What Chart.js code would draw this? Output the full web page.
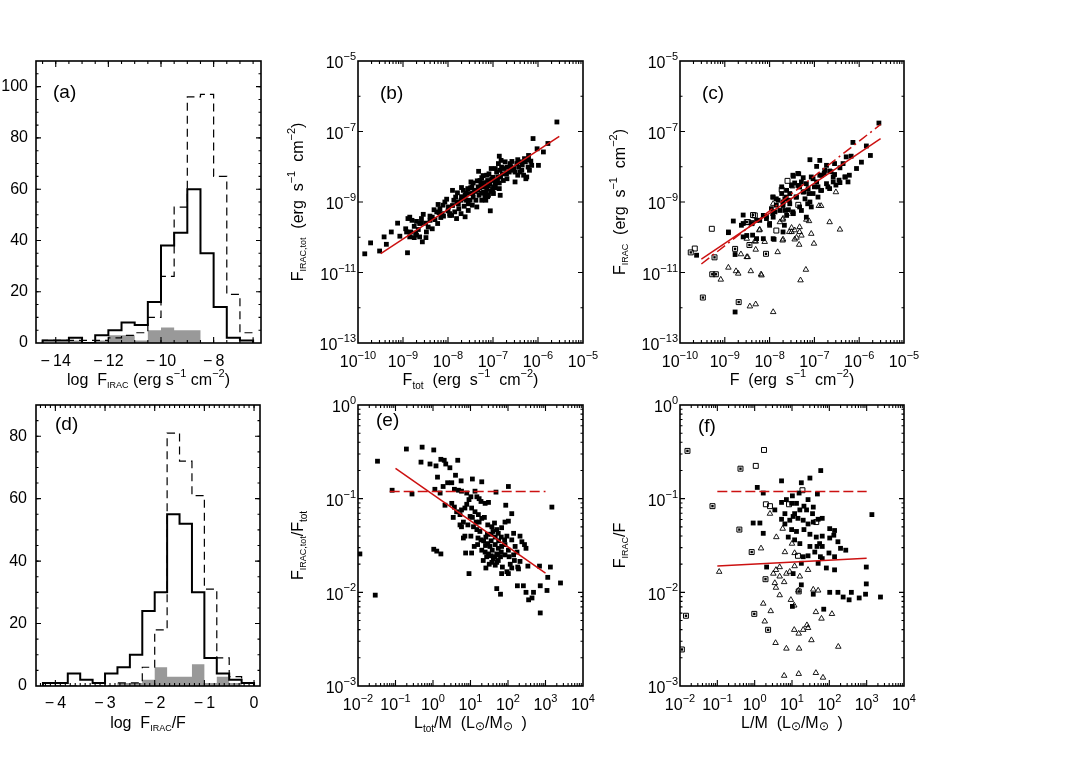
<!DOCTYPE html>
<html><head><meta charset="utf-8">
<script src="https://cdn.jsdelivr.net/npm/chart.js@4"></script>
<style>
html,body{margin:0;padding:0;background:#fff;}
#wrap{position:relative;width:1090px;height:778px;overflow:hidden;background:#fff;}
canvas{position:absolute;}
</style></head><body><div id="wrap"></div>
<script>
// ---------------- DATA ----------------
// Panel (a): histogram of log F_IRAC, bin edges and counts
const aBinEdges = [-14.5,-14,-13.5,-13,-12.5,-12,-11.5,-11,-10.5,-10,-9.5,-9,-8.5,-8,-7.5,-7,-6.5];
const aSolid  = [1,1,2,0,3,5,8,7,16,38,43,60,35,14,2,1];
const aDashed = [1,1,1,1,1,2,3,4,10,26,53,96,97,65,19,4];
const aGray   = [0,0,1,0,1,3,3,1,5,6,5,5,0,0,0,0];
// Panel (d): histogram of log F_IRAC/F
const dBinEdges = [-4.25,-4,-3.75,-3.5,-3.25,-3,-2.75,-2.5,-2.25,-2,-1.75,-1.5,-1.25,-1,-0.75,-0.5,-0.25,0];
const dSolid  = [1,1,4,2,1,4,6,10,24,30,55,52,30,9,4,2,1];
const dDashed = [0,0,0,0,0,0,1,1,6,18,81,72,61,31,9,3,1];
const dGray   = [0,0,0,0,0,0,1,1,2,6,3,3,7,1,3,1,0];

// Tick labels
const aXTicks = [-14,-12,-10,-8];
const aYTicks = [0,20,40,60,80,100];
const dXTicks = [-4,-3,-2,-1,0];
const dYTicks = [0,20,40,60,80];
const bcXTickExp = [-10,-9,-8,-7,-6,-5];
const bcYTickExp = [-5,-7,-9,-11,-13];
const efXTickExp = [-2,-1,0,1,2,3,4];
const efYTickExp = [0,-1,-2,-3];

// Panel (b): [log10 F_tot, log10 F_IRAC,tot]
const bLog = [
[-5.58,-6.73],[-6.11,-7.20],[-5.78,-7.34],[-6.02,-7.49],[-5.88,-7.58],[-5.99,-7.96],[-6.16,-7.84],[-6.21,-7.68],[-6.86,-7.70],[-6.58,-7.85],
[-6.51,-8.43],[-6.27,-8.34],[-7.32,-8.13],[-6.84,-8.81],[-7.06,-9.25],[-7.90,-8.67],[-8.03,-8.92],[-7.81,-9.47],[-7.62,-9.42],[-7.96,-9.38],
[-9.12,-9.60],[-9.26,-9.85],[-9.42,-9.99],[-9.72,-10.16],[-9.85,-10.47],[-9.37,-10.20],[-9.52,-10.39],[-8.90,-10.44],[-9.07,-9.97],[-8.57,-10.13],
[-8.49,-10.01],[-8.85,-9.99],[-8.70,-9.94],
[-8.94,-9.76],[-8.89,-9.47],[-8.85,-9.43],[-8.80,-9.52],[-8.75,-9.69],[-8.83,-9.85],[-8.92,-9.85],[-8.72,-9.88],[-8.66,-9.78],[-8.63,-9.61],
[-8.55,-9.35],[-8.59,-9.47],[-8.50,-9.60],[-8.44,-9.71],[-8.40,-9.52],[-8.35,-9.43],[-8.31,-9.22],[-8.25,-9.28],[-8.29,-9.50],[-8.22,-9.07],
[-8.18,-9.19],[-8.13,-9.33],[-8.16,-9.44],[-8.11,-9.09],[-8.07,-9.00],[-8.23,-9.61],[-8.35,-9.76],[-8.48,-9.85],[-8.63,-9.99],[-8.75,-10.01],
[-7.99,-9.14],[-7.96,-9.33],[-7.92,-9.38],[-7.85,-9.28],[-7.77,-9.05],[-7.71,-8.95],[-7.70,-8.59],[-7.66,-8.67],[-7.62,-8.81],[-7.59,-8.95],
[-7.55,-9.05],[-7.51,-8.76],[-7.47,-8.57],[-7.49,-8.43],[-7.44,-8.86],[-7.41,-8.67],[-7.38,-8.95],[-7.36,-9.14],[-7.55,-9.24],[-7.46,-9.09],
[-7.64,-9.12],[-7.71,-9.33],[-7.76,-9.19],[-7.87,-8.95],[-7.83,-8.86],[-7.79,-8.74],[-7.66,-8.90],[-7.56,-8.62],[-7.51,-8.95],[-7.44,-8.46],
[-7.33,-8.57],[-7.29,-8.39],[-7.25,-8.31],[-7.21,-8.72],[-7.19,-8.53],[-7.16,-8.95],[-7.14,-8.62],[-7.12,-8.39],[-7.09,-8.20],[-7.07,-8.48],
[-7.03,-8.34],[-7.01,-8.65],[-6.99,-8.57],[-6.97,-8.39],[-6.95,-8.05],[-6.92,-8.15],[-6.89,-8.29],[-6.86,-8.46],[-6.83,-8.29],[-6.81,-8.01],
[-6.79,-8.20],[-6.77,-8.39],[-6.73,-7.86],[-6.69,-8.34],[-6.75,-8.05],[-6.82,-7.82],[-6.88,-7.91],[-6.92,-8.39],[-6.99,-8.76],[-7.10,-8.81],
[-7.18,-8.86],[-7.25,-8.95],[-7.31,-8.81],[-7.34,-8.67],[-7.27,-8.48],[-7.14,-8.24],[-7.04,-8.05],[-6.95,-8.48],[-6.86,-8.62],[-7.21,-8.57],
[-6.62,-7.91],[-6.58,-8.10],[-6.54,-8.05],[-6.51,-8.15],[-6.47,-7.91],[-6.43,-8.01],[-6.40,-8.15],[-6.36,-8.10],[-6.32,-8.24],[-6.28,-7.86],
[-6.25,-8.29],[-6.22,-8.01],[-6.19,-8.10],[-6.14,-7.96],[-6.45,-8.24],[-6.37,-7.86],[-6.30,-7.77],[-6.21,-7.80],[-6.64,-8.15],[-6.69,-8.01],
[-7.40,-8.70],[-7.30,-8.60],[-7.20,-8.45],[-7.10,-8.55],[-7.00,-8.30],[-6.90,-8.40],[-7.35,-8.40],[-7.25,-8.75],[-7.15,-8.75],[-7.05,-8.70],
[-6.95,-8.60],[-7.45,-8.75],[-7.50,-8.60],[-7.60,-8.75],[-7.70,-8.85],[-7.80,-9.00],[-7.90,-9.10],[-8.00,-9.25],[-8.10,-9.40],[-8.20,-9.30],
[-8.40,-9.40],[-8.60,-9.60],[-8.70,-9.55],[-6.85,-8.10],[-6.70,-8.20],[-6.60,-8.00],[-6.45,-7.80],[-6.35,-7.95],[-7.22,-8.25],[-7.12,-8.85]
];
const bFitX = [3.2e-10, 2.97e-6];
const bFitY = [3.43e-11, 7.3e-8];

// Panel (c): [log10 F, log10 F_IRAC]
const cFilledLog = [
[-5.56,-6.76],[-6.14,-7.31],[-5.84,-7.41],[-5.75,-7.68],[-6.06,-8.05],[-6.29,-7.72],[-7.10,-7.80],[-6.88,-7.82],[-7.35,-8.20],[-7.47,-8.27],
[-7.25,-8.31],[-7.03,-8.34],[-6.84,-8.24],[-6.66,-8.12],[-6.55,-8.22],[-6.43,-8.03],[-6.32,-8.29],[-6.25,-8.43],[-6.58,-8.43],[-6.73,-8.48],
[-6.92,-8.57],[-7.14,-8.62],[-7.33,-8.57],[-7.51,-8.53],[-7.62,-8.67],[-7.73,-8.76],[-7.85,-8.91],[-7.92,-8.86],[-7.70,-9.00],[-7.55,-9.05],
[-7.40,-8.86],[-7.25,-8.72],[-7.10,-9.00],[-6.92,-8.86],[-7.47,-9.33],[-7.62,-9.38],[-7.77,-9.24],[-7.92,-9.43],[-8.07,-9.47],[-8.14,-9.38],
[-8.29,-9.52],[-8.40,-9.61],[-8.59,-9.61],[-8.81,-9.54],[-8.51,-9.95],[-8.59,-9.99],[-8.92,-9.85],[-8.29,-10.04],[-7.92,-10.04],[-9.63,-10.51],
[-8.77,-12.12],[-7.96,-9.19],[-7.66,-9.24],[-7.33,-9.14],[-7.18,-9.43],[-6.95,-8.43],[-6.77,-8.10],[-6.55,-7.91],[-6.36,-7.91],[-6.18,-7.70],
[-5.95,-7.87],[-6.43,-8.45],[-6.66,-8.62],[-6.84,-8.67],[-7.03,-8.76],[-7.21,-8.91],[-7.36,-8.53],[-7.55,-8.76],[-7.66,-8.91],[-7.85,-9.09],
[-7.88,-9.28],[-8.00,-9.61],[-8.14,-10.04],[-7.73,-8.57],[-7.44,-8.46],[-7.29,-8.43],[-7.18,-8.48],[-6.58,-8.29],[-6.95,-7.99],[-6.73,-7.96],
[-8.92,-9.87],[-8.63,-9.66],[-8.77,-10.49],[-7.90,-10.06],[-8.38,-9.94],
[-7.48,-8.24],[-7.37,-8.19],[-7.07,-8.29],[-6.88,-8.24],[-6.78,-8.19],[-6.63,-8.14],[-6.45,-8.38],[-6.31,-8.29],[-6.22,-8.24],[-6.52,-8.52],
[-6.70,-8.57],[-6.86,-8.67],[-7.00,-8.57],[-7.12,-8.76],[-7.23,-8.71],[-7.34,-8.57],[-7.41,-8.86],[-7.56,-8.95],[-7.63,-8.86],[-7.70,-9.10],
[-7.81,-8.95],[-7.93,-8.86],[-7.15,-9.05],[-7.07,-9.14],[-7.29,-9.24],[-7.48,-9.28],[-7.58,-9.22],[-8.07,-9.41],[-8.22,-9.52],[-8.59,-9.37],
[-8.00,-9.66],[-7.93,-9.33],[-7.67,-9.66],[-7.70,-9.85]
];
const cOpenLog = [
[-9.29,-9.76],[-9.67,-10.32],[-7.73,-8.65],[-7.36,-9.08],[-8.33,-9.38],[-8.48,-9.57],[-7.49,-8.53],[-7.85,-9.81],[-8.40,-9.60],[-7.60,-8.40]
];
const cBoxedLog = [
[-9.76,-10.43],[-9.23,-10.57],[-8.77,-10.33],[-8.45,-10.22],[-8.08,-10.47],[-9.49,-11.71],[-8.69,-11.84],[-9.28,-11.05],[-9.20,-11.05],
[-8.37,-9.37],[-8.51,-9.57]
];
const cTriLog = [
[-8.64,-10.48],[-8.49,-10.56],[-8.31,-10.12],[-8.11,-10.13],[-7.82,-10.42],[-7.70,-10.06],[-8.92,-10.86],[-8.75,-10.96],[-8.70,-11.03],[-8.42,-10.96],
[-8.19,-11.05],[-9.09,-11.20],[-8.44,-11.96],[-8.31,-11.90],[-7.92,-12.12],[-6.52,-8.72],[-6.66,-9.57],[-6.43,-9.78],[-6.90,-9.11],[-6.85,-9.11],
[-7.18,-9.50],[-7.12,-9.54],[-7.07,-9.90],[-7.33,-9.71],[-7.33,-9.85],[-7.29,-9.95],[-7.44,-9.80],[-7.51,-9.85],[-7.40,-10.01],[-7.34,-10.21],
[-7.71,-10.09],[-8.22,-9.78],[-7.77,-9.57],[-7.19,-10.92],[-7.31,-11.22],[-8.18,-11.08],[-7.57,-9.33],[-7.01,-10.18],[-7.70,-9.47],[-7.92,-9.05],
[-8.51,-10.04],[-8.33,-10.11],[-8.23,-9.80],[-7.71,-9.50],[-7.56,-9.85],[-7.51,-9.73],[-7.44,-10.06],[-8.51,-10.56],[-8.31,-10.35]
];
const cFitX = [3.0e-10, 3.0e-6];
const cSolidFitY = [2.4e-11, 6.3e-8];
const cDashFitY = [1.74e-11, 1.58e-7];

// Panel (e): [log10 Ltot/M, log10 F_IRAC,tot/F_tot]
const eLog = [
[-0.71,-0.47],[-0.29,-0.45],[0.02,-0.48],[-1.48,-0.60],[-0.32,-0.61],[-0.08,-0.63],[0.08,-0.65],[0.21,-0.58],[0.30,-0.59],[0.45,-0.67],
[0.66,-0.59],[0.34,-0.63],[0.12,-0.77],[0.60,-0.75],[0.39,-0.83],[0.50,-0.83],[0.27,-0.87],[0.75,-0.81],[1.05,-0.79],[1.30,-0.82],
[0.05,-0.90],[0.19,-0.94],[0.57,-0.90],[0.68,-0.91],[0.76,-0.92],[0.90,-0.94],[1.12,-0.92],[-1.09,-0.91],[-0.56,-0.95],[2.01,-0.87],
[1.68,-0.93],[3.17,-1.09],
[0.32,-1.07],[0.50,-1.05],[0.57,-1.09],[0.63,-1.14],[0.54,-1.20],[0.72,-1.17],[0.76,-1.12],[0.85,-1.10],[0.90,-1.06],[0.96,-1.01],
[1.01,-0.98],[1.17,-0.98],[1.23,-1.00],[1.28,-1.03],[1.39,-1.05],[1.48,-1.04],[1.03,-1.10],[1.12,-1.14],[1.21,-1.17],[1.30,-1.21],
[0.99,-1.19],[0.81,-1.25],[0.72,-1.28],[0.76,-1.30],[0.93,-1.28],[1.08,-1.30],[1.17,-1.33],[1.23,-1.25],[1.37,-1.20],[1.46,-1.28],
[1.57,-1.30],[1.64,-1.26],[1.70,-1.33],[1.74,-1.37],[1.83,-1.31],[1.94,-1.07],[1.92,-1.25],[2.01,-1.24],[2.10,-1.16],[2.15,-1.37],
[1.97,-1.40],[1.91,-1.44],[1.82,-1.41],[1.66,-1.41],[1.55,-1.38],[1.41,-1.41],[1.28,-1.44],[1.19,-1.49],[1.10,-1.51],[1.01,-1.40],
[0.85,-1.40],[0.81,-1.42],[1.46,-1.48],[1.52,-1.51],[1.58,-1.55],[1.66,-1.49],[1.74,-1.53],[1.83,-1.51],[1.92,-1.49],[2.01,-1.55],
[2.10,-1.44],[2.19,-1.51],[2.24,-1.57],[2.32,-1.40],[2.37,-1.46],[2.44,-1.49],[2.48,-1.53],[2.15,-1.60],[2.03,-1.62],[1.92,-1.60],
[1.82,-1.57],[1.70,-1.59],[1.61,-1.64],[1.48,-1.59],[1.39,-1.57],[1.34,-1.66],[1.41,-1.74],[1.57,-1.68],[1.66,-1.71],[1.74,-1.66],
[1.85,-1.73],[1.83,-1.80],[1.97,-1.78],[2.06,-1.70],[2.17,-1.66],[2.26,-1.73],[2.32,-1.67],[2.53,-1.72],[2.28,-1.75],[2.10,-1.74],
[2.01,-1.80],[1.73,-1.60],[1.55,-1.61],[1.43,-1.62],
[0.02,-1.54],[0.10,-1.56],[0.21,-1.59],[0.87,-1.58],[1.03,-1.58],[0.96,-1.80],[1.70,-1.96],[1.80,-2.02],[2.25,-1.93],[2.41,-1.93],
[2.48,-2.00],[2.55,-2.08],[2.68,-2.00],[2.64,-2.06],[2.84,-1.72],[3.13,-1.73],[2.86,-1.93],[3.04,-1.98],[3.06,-1.84],[3.40,-1.90],
[2.86,-2.22],[-1.54,-2.03],[-1.95,-1.59],
[1.35,-1.45],[1.45,-1.38],[1.55,-1.45],[1.65,-1.62],[1.75,-1.45],[1.25,-1.35],[1.15,-1.25],[1.05,-1.20],[1.60,-1.35],[1.50,-1.70],
[1.70,-1.68],[1.80,-1.62],[1.40,-1.50],[1.30,-1.55],[1.20,-1.42]
];
const eFitX = [0.1, 1000];
const eFitY = [0.211, 0.016];
const eDashX = [0.07, 1000];
const eDashY = [0.119, 0.119];

// Panel (f): [log10 L/M, log10 F_IRAC/F]
const fFilledLog = [
[1.77,-0.70],[0.72,-0.81],[1.25,-0.83],[1.48,-0.78],[0.07,-0.88],[0.23,-0.94],[1.43,-1.01],[1.68,-0.95],[1.19,-0.94],[1.01,-0.97],
[0.85,-1.01],[0.72,-1.04],[0.99,-1.05],[1.12,-1.05],[1.32,-1.08],[1.57,-1.09],[1.21,-1.12],[1.07,-1.16],[0.81,-1.16],[0.54,-1.12],
[0.14,-1.26],[0.23,-1.37],[0.81,-1.27],[0.94,-1.23],[1.03,-1.19],[1.16,-1.21],[1.30,-1.23],[1.43,-1.27],[1.57,-1.25],[1.70,-1.22],
[1.81,-1.21],[2.01,-1.32],[2.14,-1.34],[1.32,-1.33],[1.48,-1.38],[1.65,-1.41],[1.81,-1.40],[2.01,-1.42],[2.12,-1.39],[2.23,-1.46],
[2.30,-1.53],[2.44,-1.55],[0.90,-1.41],[1.07,-1.44],[1.21,-1.48],[1.48,-1.51],[1.67,-1.51],[1.81,-1.51],[1.61,-1.57],[1.76,-1.62],
[1.99,-1.58],[2.14,-1.62],[1.70,-1.69],[1.81,-1.64],[1.92,-1.74],[2.14,-1.76],[1.30,-1.62],[1.43,-1.61],[1.25,-1.69],[1.03,-1.80],
[1.25,-1.92],[1.57,-2.02],[2.01,-2.00],[2.23,-2.00],[2.37,-2.05],[2.53,-2.08],[2.59,-2.00],[2.80,-2.06],[2.97,-2.02],[2.99,-1.91],
[2.99,-1.73],[3.37,-2.05],[3.14,-1.17],[1.85,-2.18],[1.01,-2.15],[0.32,-1.73],[-0.04,-1.26],[0.72,-1.22],[1.39,-1.12],[1.55,-1.16],
[1.74,-1.48],[0.99,-1.33],[1.12,-1.35]
];
const fOpenLog = [[0.25,-0.48],[0.03,-0.65],[0.30,-1.06],[0.41,-1.08],[0.92,-1.06],[1.28,-0.91],[1.16,-1.61],[1.65,-1.25]];
const fBoxedLog = [[-1.80,-0.49],[-0.38,-0.68],[-1.13,-1.08],[-0.41,-1.33],[-0.08,-1.57],[0.29,-1.86],[-0.01,-2.23],[0.36,-2.40],[-1.84,-2.25],[-1.95,-2.61],[1.18,-1.99]];
const fTriLog = [
[-0.95,-1.78],[0.41,-1.16],[0.58,-1.41],[0.17,-1.53],[0.75,-1.32],[1.07,-1.58],[0.81,-1.57],[0.67,-1.73],[0.85,-1.80],[0.57,-1.76],
[0.67,-1.83],[0.79,-1.89],[0.94,-1.78],[1.07,-1.72],[1.21,-1.83],[1.43,-1.76],[1.57,-1.97],[1.70,-1.98],[1.17,-1.98],[0.50,-1.80],
[0.54,-1.90],[0.57,-1.95],[0.67,-2.03],[0.97,-2.08],[1.06,-2.14],[0.23,-2.12],[0.27,-2.31],[0.56,-2.54],[0.85,-2.60],[1.19,-2.60],
[1.06,-2.40],[1.18,-2.44],[1.30,-2.40],[1.40,-2.35],[1.43,-2.38],[1.52,-2.51],[1.64,-2.21],[2.07,-2.23],[2.24,-2.58],[0.79,-2.89],
[1.18,-2.87],[1.64,-2.86],[1.83,-2.91],[1.79,-2.28],[0.43,-2.20],[1.00,-1.48]
];
const fFitX = [0.1, 1000];
const fFitY = [0.0191, 0.0231];
const fDashX = [0.1, 1000];
const fDashY = [0.119, 0.119];

// ---------------- RENDERING ----------------
const FONT = '"Liberation Sans", Arial, Helvetica, sans-serif';
const SZ = {n:16, sub:10, subs:9, sup:11, sun:12, tag:19};
const OFF = {n:0, sub:5, subs:5, sup:-7, sun:3, tag:0};
const RED = '#cc1111';
const wrap = document.getElementById('wrap');
const FRAMES = new Map();

function drawRich(ctx, segs, x, y, align, rot){
  ctx.save(); ctx.translate(x,y); if(rot) ctx.rotate(-Math.PI/2);
  ctx.textBaseline='middle'; ctx.textAlign='left'; ctx.fillStyle='#000';
  const ws = segs.map(([t,k])=>{ctx.font=SZ[k]+'px '+FONT; return ctx.measureText(t).width;});
  const tot = ws.reduce((a,b)=>a+b,0);
  let cx = align==='center' ? -tot/2 : (align==='right' ? -tot : 0);
  segs.forEach(([t,k],i)=>{ctx.font=SZ[k]+'px '+FONT; ctx.fillText(t,cx,OFF[k]); cx+=ws[i];});
  ctx.restore();
}
const minus = v => v<0 ? '\u2212'+Math.abs(v) : String(v);
const linLabel = v => [[v<0 ? '\u2212\u2009'+Math.abs(v) : String(v),'n']];
const expLabel = e => [['10','n'],[minus(e),'sup']];
function logMinor(lo,hi){const o=[];for(let k=lo;k<hi;k++)for(let m=2;m<=9;m++)o.push(m*Math.pow(10,k));return o;}
function range(a,b,s){const o=[];for(let v=a;v<=b+1e-9;v+=s)o.push(+v.toFixed(6));return o;}

const frame = {
  id:'frame',
  afterDatasetsDraw(chart){
    const cfg = FRAMES.get(chart.canvas); if(!cfg) return;
    const ctx = chart.ctx; const {left,right,top,bottom} = chart.chartArea;
    const xs = chart.scales.x, ys = chart.scales.y;
    ctx.save();
    ctx.strokeStyle='#000';
    ctx.lineWidth=1.1;
    const tx=(vals,len)=>{for(const v of vals){const p=xs.getPixelForValue(v); if(p<left+1||p>right-1)continue;
      ctx.beginPath();ctx.moveTo(p,bottom);ctx.lineTo(p,bottom-len);ctx.moveTo(p,top);ctx.lineTo(p,top+len);ctx.stroke();}};
    const ty=(vals,len)=>{for(const v of vals){const p=ys.getPixelForValue(v); if(p<top+1||p>bottom-1)continue;
      ctx.beginPath();ctx.moveTo(left,p);ctx.lineTo(left+len,p);ctx.moveTo(right,p);ctx.lineTo(right-len,p);ctx.stroke();}};
    tx(cfg.xMajor,6); tx(cfg.xMinor,3); ty(cfg.yMajor,5); ty(cfg.yMinor,2.5);
    ctx.lineWidth=1.6;
    ctx.strokeRect(left,top,right-left,bottom-top);
    ctx.restore();
    for(const t of cfg.xLabels){drawRich(ctx,t.segs,xs.getPixelForValue(t.v),bottom+cfg.xlOff,'center');}
    for(const t of cfg.yLabels){drawRich(ctx,t.segs,left-cfg.ylPad,ys.getPixelForValue(t.v)+cfg.ylDy,'right');}
    if(cfg.xTitle) drawRich(ctx,cfg.xTitle,(left+right)/2,bottom+38,'center');
    if(cfg.yTitle) drawRich(ctx,cfg.yTitle,left-59,(top+bottom)/2,'center',true);
    drawRich(ctx,[[cfg.tag,'tag']],left+cfg.tagPos[0],top+cfg.tagPos[1],'left');
  }
};

function makePanel(rect, type, xs, ys, datasets, cfg){
  const [L,T,R,B] = rect;
  const cv = document.createElement('canvas');
  const W = R-L+110, H = B-T+90;
  cv.width=W; cv.height=H;
  cv.style.left=(L-80)+'px'; cv.style.top=(T-30)+'px';
  cv.style.width=W+'px'; cv.style.height=H+'px';
  wrap.appendChild(cv);
  FRAMES.set(cv,cfg);
  const common = {grid:{display:false,drawTicks:false}, border:{display:false}, ticks:{display:false}};
  new Chart(cv,{
    type, data:{datasets},
    options:{
      responsive:false, maintainAspectRatio:false, animation:false, devicePixelRatio:1, events:[],
      layout:{padding:{left:0,top:30,right:30,bottom:0}},
      plugins:{legend:{display:false}, tooltip:{enabled:false}},
      scales:{
        x:Object.assign({position:'bottom', afterFit:s=>{s.height=60;s.paddingLeft=0;s.paddingRight=0;}}, common, xs),
        y:Object.assign({position:'left', afterFit:s=>{s.width=80;s.paddingTop=0;s.paddingBottom=0;}}, common, ys)
      }
    },
    plugins:[frame]
  });
}

function stepPts(edges, counts){
  const pts=[{x:edges[0],y:0}];
  counts.forEach((c,i)=>pts.push({x:edges[i],y:c}));
  pts.push({x:edges[counts.length],y:counts[counts.length-1]});
  pts.push({x:edges[counts.length],y:0});
  return pts;
}
function histSets(edges, solid, dashed, gray){
  return [
    {type:'line', data:stepPts(edges,solid), stepped:true, borderColor:'#000', borderWidth:2, pointRadius:0, fill:false, order:0},
    {type:'line', data:stepPts(edges,dashed), stepped:true, borderColor:'#000', borderWidth:1.2, borderDash:[8,5], pointRadius:0, fill:false, order:1},
    {type:'line', data:stepPts(edges,gray), stepped:true, borderColor:'rgba(0,0,0,0)', borderWidth:0, backgroundColor:'#999999', pointRadius:0, fill:'origin', order:2}
  ];
}
const toXY = arr => arr.map(([a,b])=>({x:Math.pow(10,a), y:Math.pow(10,b)}));
const filledSet = arr => ({data:toXY(arr), pointStyle:'rect', pointRadius:3.4, backgroundColor:'#000', borderColor:'#000', borderWidth:0, order:3});
const openSet = arr => ({data:toXY(arr), pointStyle:'rect', pointRadius:3.5, backgroundColor:'rgba(0,0,0,0)', borderColor:'#000', borderWidth:1, order:4});
const innerSet = arr => ({data:toXY(arr), pointStyle:'rect', pointRadius:1.7, backgroundColor:'#000', borderColor:'#000', borderWidth:0, order:4});
const triSet = arr => ({data:toXY(arr), pointStyle:'triangle', pointRadius:3.2, backgroundColor:'rgba(0,0,0,0)', borderColor:'#000', borderWidth:0.9, order:5});
const lineSet = (xs,ys,dash,w) => ({data:xs.map((x,i)=>({x,y:ys[i]})), showLine:true, borderColor:RED, borderWidth:w||1.5, borderDash:dash||[], pointRadius:0, fill:false, order:0});

const ERG = [['  (erg  s','n'],['\u22121','sup'],['  cm','n'],['\u22122','sup'],[')','n']];

// (a)
makePanel([36,61,261,343],'line',
  {type:'linear',min:-14.75,max:-6.2},{type:'linear',min:0,max:110},
  histSets(aBinEdges,aSolid,aDashed,aGray),
  {xMajor:aXTicks, xMinor:range(-14.5,-6.5,0.5), yMajor:aYTicks, yMinor:range(5,105,5),
   xLabels:aXTicks.map(v=>({v,segs:linLabel(v)})), yLabels:aYTicks.map(v=>({v,segs:linLabel(v)})),
   xlOff:19, ylPad:8, ylDy:0,
   xTitle:[['log  F','n'],['IRAC','subs'],[' (erg s','n'],['\u22121','sup'],[' cm','n'],['\u22122','sup'],[')','n']],
   tag:'(a)', tagPos:[17,32]});
// (d)
makePanel([36,405,260,686],'line',
  {type:'linear',min:-4.39,max:0.12},{type:'linear',min:0,max:90},
  histSets(dBinEdges,dSolid,dDashed,dGray),
  {xMajor:dXTicks, xMinor:range(-4.3,0.1,0.1), yMajor:dYTicks, yMinor:range(5,85,5),
   xLabels:dXTicks.map(v=>({v,segs:linLabel(v)})), yLabels:dYTicks.map(v=>({v,segs:linLabel(v)})),
   xlOff:18, ylPad:9, ylDy:0,
   xTitle:[['log  F','n'],['IRAC','subs'],['/F','n']],
   tag:'(d)', tagPos:[19,20]});
// (b)
makePanel([358,61,583,343],'scatter',
  {type:'logarithmic',min:1e-10,max:1e-5},{type:'logarithmic',min:1e-13,max:1e-5},
  [lineSet(bFitX,bFitY), filledSet(bLog)],
  {xMajor:bcXTickExp.map(e=>Math.pow(10,e)), xMinor:logMinor(-10,-5), yMajor:bcYTickExp.map(e=>Math.pow(10,e)), yMinor:[1e-6,1e-8,1e-10,1e-12],
   xLabels:bcXTickExp.map(e=>({v:Math.pow(10,e),segs:expLabel(e)})), yLabels:bcYTickExp.map(e=>({v:Math.pow(10,e),segs:expLabel(e)})),
   xlOff:20, ylPad:2, ylDy:3,
   xTitle:[['F','n'],['tot','sub']].concat(ERG),
   yTitle:[['F','n'],['IRAC,tot','subs']].concat(ERG),
   tag:'(b)', tagPos:[22,33]});
// (c)
makePanel([680,61,904,343],'scatter',
  {type:'logarithmic',min:1e-10,max:1e-5},{type:'logarithmic',min:1e-13,max:1e-5},
  [lineSet(cFitX,cSolidFitY), lineSet(cFitX,cDashFitY,[10,4,2,4]), filledSet(cFilledLog), openSet(cOpenLog), openSet(cBoxedLog), innerSet(cBoxedLog), triSet(cTriLog)],
  {xMajor:bcXTickExp.map(e=>Math.pow(10,e)), xMinor:logMinor(-10,-5), yMajor:bcYTickExp.map(e=>Math.pow(10,e)), yMinor:[1e-6,1e-8,1e-10,1e-12],
   xLabels:bcXTickExp.map(e=>({v:Math.pow(10,e),segs:expLabel(e)})), yLabels:bcYTickExp.map(e=>({v:Math.pow(10,e),segs:expLabel(e)})),
   xlOff:20, ylPad:2, ylDy:3,
   xTitle:[['F','n']].concat(ERG),
   yTitle:[['F','n'],['IRAC','subs']].concat(ERG),
   tag:'(c)', tagPos:[22,33]});
// (e)
makePanel([358,405,583,686],'scatter',
  {type:'logarithmic',min:1e-2,max:1e4},{type:'logarithmic',min:1e-3,max:1},
  [lineSet(eFitX,eFitY), lineSet(eDashX,eDashY,[10,4]), filledSet(eLog)],
  {xMajor:efXTickExp.map(e=>Math.pow(10,e)), xMinor:logMinor(-2,4), yMajor:efYTickExp.map(e=>Math.pow(10,e)), yMinor:logMinor(-3,0),
   xLabels:efXTickExp.map(e=>({v:Math.pow(10,e),segs:expLabel(e)})), yLabels:efYTickExp.map(e=>({v:Math.pow(10,e),segs:expLabel(e)})),
   xlOff:20, ylPad:2, ylDy:3,
   xTitle:[['L','n'],['tot','sub'],['/M  (L','n'],['\u2299','sun'],['/M','n'],['\u2299','sun'],['  )','n']],
   yTitle:[['F','n'],['IRAC,tot','subs'],['/F','n'],['tot','sub']],
   tag:'(e)', tagPos:[18,16]});
// (f)
makePanel([680,405,904,686],'scatter',
  {type:'logarithmic',min:1e-2,max:1e4},{type:'logarithmic',min:1e-3,max:1},
  [lineSet(fFitX,fFitY), lineSet(fDashX,fDashY,[10,4]), filledSet(fFilledLog), openSet(fOpenLog), openSet(fBoxedLog), innerSet(fBoxedLog), triSet(fTriLog)],
  {xMajor:efXTickExp.map(e=>Math.pow(10,e)), xMinor:logMinor(-2,4), yMajor:efYTickExp.map(e=>Math.pow(10,e)), yMinor:logMinor(-3,0),
   xLabels:efXTickExp.map(e=>({v:Math.pow(10,e),segs:expLabel(e)})), yLabels:efYTickExp.map(e=>({v:Math.pow(10,e),segs:expLabel(e)})),
   xlOff:20, ylPad:2, ylDy:3,
   xTitle:[['L/M  (L','n'],['\u2299','sun'],['/M','n'],['\u2299','sun'],['  )','n']],
   yTitle:[['F','n'],['IRAC','subs'],['/F','n']],
   tag:'(f)', tagPos:[18,22]});
</script></body></html>
